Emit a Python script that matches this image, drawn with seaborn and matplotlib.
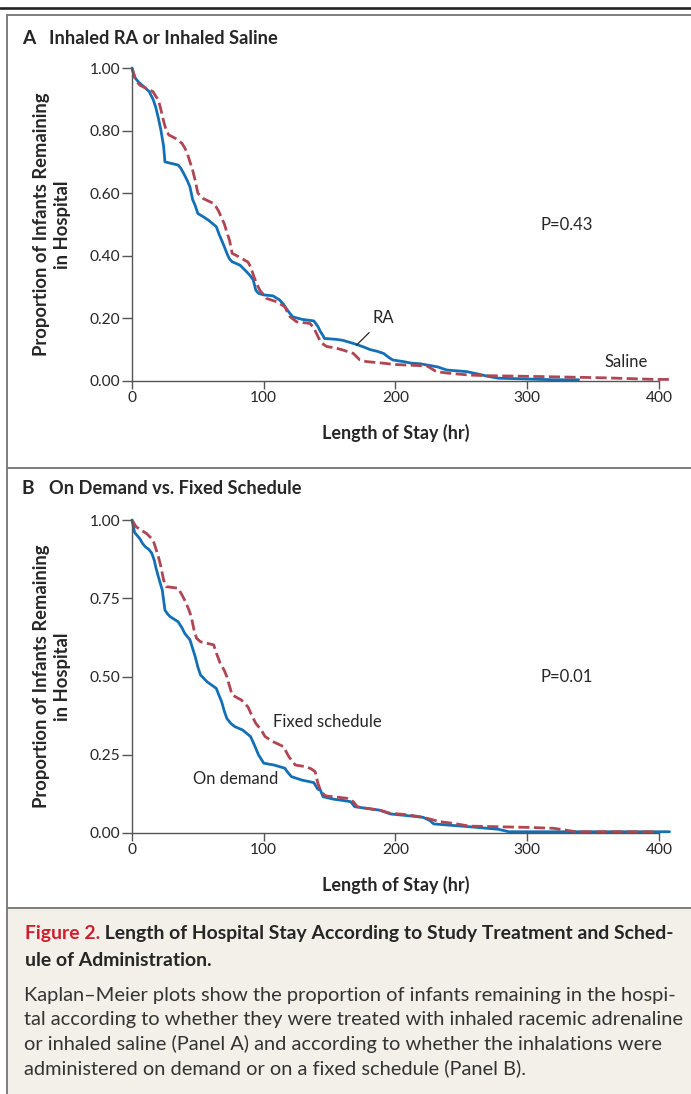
import matplotlib
matplotlib.use("Agg")
import matplotlib.pyplot as plt
from matplotlib.lines import Line2D
from matplotlib.patches import Rectangle
import seaborn as sns
import numpy as np
import pandas as pd

# ---------------- data ----------------
ra_t = [0, 2, 5, 9, 13, 16, 18, 20, 22, 24,
        25, 35, 37, 39, 42, 44, 46, 48, 50, 54,
        58, 62, 64, 66, 68, 70, 72, 74, 76, 82,
        87, 90, 92, 94, 96, 100, 107, 112, 115, 117,
        120, 122, 129, 138, 141, 143, 145, 146, 155, 160,
        168, 175, 181, 186, 191, 195, 198, 206, 212, 219,
        224, 232, 239, 254, 264, 270, 278, 320, 339]
ra_p = [1.0, .97, .955, .94, .925, .90, .875, .84, .80, .75,
        .70, .69, .68, .665, .64, .62, .58, .56, .535, .525,
        .514, .50, .493, .47, .45, .43, .408, .39, .381, .37,
        .349, .335, .323, .29, .28, .275, .272, .259, .245, .232,
        .215, .205, .197, .192, .175, .158, .145, .136, .133, .13,
        .12, .11, .10, .095, .088, .075, .067, .062, .057, .055,
        .051, .045, .035, .03, .021, .015, .009, .004, .004]

saline_t = [0, 3, 6, 11, 16, 18, 20, 22, 24, 26,
            28, 33, 38, 40, 42, 44, 46, 48, 50, 54,
            62, 64, 66, 68, 70, 72, 74, 76, 81, 88,
            90, 92, 94, 97, 100, 102, 110, 116, 118, 120,
            125, 135, 138, 140, 143, 146, 148, 155, 160, 168,
            173, 178, 193, 198, 224, 231, 240, 256, 269, 300,
            337, 360, 398, 408]
saline_p = [1.0, .96, .945, .935, .924, .91, .898, .866, .83, .80,
            .786, .775, .759, .745, .727, .70, .674, .64, .60, .583,
            .567, .555, .541, .52, .503, .475, .45, .408, .397, .38,
            .365, .34, .317, .29, .275, .264, .253, .237, .22, .205,
            .189, .184, .17, .152, .126, .115, .11, .105, .099, .088,
            .067, .062, .056, .053, .048, .03, .025, .019, .017, .015,
            .012, .01, .005, .005]

demand_t = [0, 2, 4, 6, 8, 10, 13, 15, 17, 18,
            20, 22, 23, 25, 27, 29, 35, 38, 40, 44,
            46, 48, 50, 52, 57, 64, 66, 68, 70, 72,
            75, 78, 84, 88, 90, 93, 96, 100, 108, 116,
            118, 121, 129, 138, 141, 143, 145, 153, 160, 166,
            169, 188, 196, 210, 221, 226, 229, 256, 278, 286,
            408]
demand_p = [1.0, .96, .95, .94, .925, .915, .905, .894, .87, .85,
            .819, .79, .776, .712, .70, .691, .675, .655, .638, .617,
            .59, .563, .53, .505, .483, .462, .44, .42, .39, .366,
            .35, .34, .329, .315, .308, .28, .25, .223, .217, .207,
            .195, .18, .169, .161, .14, .137, .116, .108, .104, .10,
            .084, .073, .061, .055, .05, .04, .029, .02, .012, .004,
            .004]

fixed_t = [0, 3, 6, 11, 16, 18, 20, 22, 24, 26,
           35, 38, 40, 43, 45, 47, 49, 52, 62, 64,
           67, 70, 72, 74, 76, 83, 88, 91, 94, 98,
           101, 107, 115, 117, 119, 124, 132, 136, 139, 141,
           143, 146, 148, 163, 168, 171, 176, 188, 196, 210,
           221, 234, 245, 256, 300, 320, 337, 398]
fixed_p = [1.0, .979, .97, .957, .936, .91, .883, .85, .808, .787,
           .782, .76, .744, .715, .691, .65, .622, .611, .601, .575,
           .542, .52, .499, .47, .441, .425, .403, .375, .35, .33,
           .308, .292, .276, .26, .244, .217, .212, .205, .196, .16,
           .137, .121, .118, .111, .10, .084, .08, .073, .063, .058,
           .05, .036, .03, .022, .018, .015, .004, .004]

assert len(ra_t) == len(ra_p)
assert len(saline_t) == len(saline_p)
assert len(demand_t) == len(demand_p)
assert len(fixed_t) == len(fixed_p)

x_ticks = [0, 100, 200, 300, 400]
yticks_a = [0.0, 0.2, 0.4, 0.6, 0.8, 1.0]
ylabels_a = ["0.00", "0.20", "0.40", "0.60", "0.80", "1.00"]
yticks_b = [0.0, 0.25, 0.5, 0.75, 1.0]
ylabels_b = ["0.00", "0.25", "0.50", "0.75", "1.00"]

title_a = "Inhaled RA or Inhaled Saline"
title_b = "On Demand vs. Fixed Schedule"
ylabel = "Proportion of Infants Remaining\nin Hospital"
xlabel = "Length of Stay (hr)"
pval_a = "P=0.43"
pval_b = "P=0.01"

cap_red = "Figure 2."
cap_bold1 = " Length of Hospital Stay According to Study Treatment and Sched-"
cap_bold2 = "ule of Administration."
cap_body = [
    "Kaplan\u2013Meier plots show the proportion of infants remaining in the hospi-",
    "tal according to whether they were treated with inhaled racemic adrenaline",
    "or inhaled saline (Panel A) and according to whether the inhalations were",
    "administered on demand or on a fixed schedule (Panel B).",
]

# ---------------- style ----------------
sns.set_style("ticks")
plt.rcParams["font.family"] = ["Lato", "DejaVu Sans"]

BLUE = "#1370b6"
RED = "#b04553"
TXT = "#262626"
AX = "#555555"
ANN = 12

W, H = 691, 1094
fig = plt.figure(figsize=(W / 100, H / 100), dpi=100)
fig.patch.set_facecolor("white")
R = fig.canvas.get_renderer()


def fx(x):
    return x / W


def fy(y):
    return 1 - y / H


def fit(t, target, vertical=False):
    bb = t.get_window_extent(R)
    cur = bb.height if vertical else bb.width
    t.set_fontsize(t.get_fontsize() * target / cur)


# frame decorations
fig.add_artist(Rectangle((fx(7), 0), 1, fy(907.7), transform=fig.transFigure,
                         facecolor="#f3efe9", edgecolor="none", zorder=0))
fig.add_artist(Line2D([0, 1], [fy(7.5), fy(7.5)], transform=fig.transFigure,
                      color="#222222", lw=1.9))
for yy in (14.5, 467.7, 907.7):
    fig.add_artist(Line2D([fx(7), 1], [fy(yy), fy(yy)], transform=fig.transFigure,
                          color="#7d7d7d", lw=1.4))
fig.add_artist(Line2D([fx(7.3), fx(7.3)], [0, fy(14.5)], transform=fig.transFigure,
                      color="#7d7d7d", lw=1.4))

PX_PER_HR = (659 - 132) / 400.0
XMAX = 412
LEFT = 132
RIGHT = LEFT + XMAX * PX_PER_HR


def make_axes(top, bottom):
    ax = fig.add_axes([fx(LEFT), fy(bottom), (RIGHT - LEFT) / W, (bottom - top) / H])
    ax.set_facecolor("none")
    return ax


def style_axes(ax, yt, yl):
    ax.set_xlim(0, XMAX)
    ax.set_ylim(0, 1)
    sns.despine(ax=ax)
    ax.spines["bottom"].set_bounds(0, 400)
    for s in ("left", "bottom"):
        ax.spines[s].set_color(AX)
        ax.spines[s].set_linewidth(1.0)
    ax.set_xticks(x_ticks)
    ax.set_xticklabels([str(v) for v in x_ticks])
    ax.set_yticks(yt)
    ax.set_yticklabels(yl)
    ax.tick_params(axis="y", length=7, width=1.0, color=AX, pad=1.5,
                   labelsize=11.2, labelcolor=TXT)
    ax.tick_params(axis="x", length=5.5, width=1.0, color=AX, pad=2,
                   labelsize=11.2, labelcolor=TXT)
    ax.set_xlabel(xlabel, fontweight="bold", color=TXT, fontsize=11)
    ax.xaxis.set_label_coords((396 - LEFT) / (RIGHT - LEFT), -52 / 313)
    ax.xaxis.label.set_va("center")
    ax.set_ylabel(ylabel, fontweight="bold", color=TXT, fontsize=11,
                  linespacing=1.25)
    ax.yaxis.set_label_coords((52 - LEFT) / (RIGHT - LEFT), 0.5)
    ax.yaxis.label.set_va("center")
    ax.yaxis.label.set_ha("center")
    fit(ax.xaxis.label, 147)
    fit(ax.yaxis.label, 262, vertical=True)


def km(ax, t, p, color, dashed=False):
    df = pd.DataFrame({"t": t, "p": p})
    kw = dict(color=color, lw=2.0, estimator=None, clip_on=False, legend=False)
    if dashed:
        kw["linestyle"] = (0, (4.0, 1.6))
    sns.lineplot(data=df, x="t", y="p", ax=ax, **kw)


# ---------------- Panel A ----------------
axA = make_axes(68, 381)
km(axA, ra_t, ra_p, BLUE)
km(axA, saline_t, saline_p, RED, dashed=True)
style_axes(axA, yticks_a, ylabels_a)
axA.text(330, 0.50, pval_a, ha="center", va="center", fontsize=ANN, color=TXT)
axA.annotate("RA", xy=(170.5, 0.115), xytext=(190.5, 0.20), ha="center",
             va="center", fontsize=ANN, color=TXT,
             arrowprops=dict(arrowstyle="-", color=TXT, lw=0.9,
                             shrinkA=3, shrinkB=0, relpos=(0.15, 0.0)))
axA.text(375, 0.06, "Saline", ha="center", va="center", fontsize=ANN, color=TXT)

# ---------------- Panel B ----------------
axB = make_axes(520, 833)
km(axB, demand_t, demand_p, BLUE)
km(axB, fixed_t, fixed_p, RED, dashed=True)
style_axes(axB, yticks_b, ylabels_b)
axB.text(330, 0.50, pval_b, ha="center", va="center", fontsize=ANN, color=TXT)
axB.text(148, 0.355, "Fixed schedule", ha="center", va="center", fontsize=ANN, color=TXT)
axB.text(79, 0.173, "On demand", ha="center", va="center", fontsize=ANN, color=TXT)

# ---------------- Panel titles ----------------
for letter, title, yy in (("A", title_a, 38), ("B", title_b, 489)):
    tt = fig.text(fx(49), fy(yy), title, fontweight="bold", color=TXT,
                  va="center", ha="left", fontsize=11)
    fit(tt, 228 if letter == "A" else 252)
    fig.text(fx(22), fy(yy), letter, fontweight="bold", color=TXT,
             va="center", ha="left", fontsize=tt.get_fontsize() * 1.05)

# ---------------- Caption ----------------
t1 = fig.text(fx(25), fy(933), cap_red, fontweight="bold", color="#cf1f2d",
              va="center", ha="left", fontsize=10)
t2 = fig.text(fx(25), fy(933), cap_bold1, fontweight="bold", color=TXT,
              va="center", ha="left", fontsize=10)
w1 = t1.get_window_extent(R).width
w2 = t2.get_window_extent(R).width
s = 10 * (674 - 25) / (w1 + w2)
t1.set_fontsize(s)
t2.set_fontsize(s)
t2.set_x(fx(25 + t1.get_window_extent(R).width))
fig.text(fx(25), fy(960), cap_bold2, fontweight="bold", color=TXT,
         va="center", ha="left", fontsize=s)

ref = fig.text(fx(24), fy(996), cap_body[0], color="#333333",
               va="center", ha="left", fontsize=12)
fit(ref, 676 - 24)
bs = ref.get_fontsize()
for i, line in enumerate(cap_body[1:]):
    fig.text(fx(24), fy(1020 + 24 * i), line, color="#333333",
             va="center", ha="left", fontsize=bs)

fig.savefig("out.png", dpi=100)
